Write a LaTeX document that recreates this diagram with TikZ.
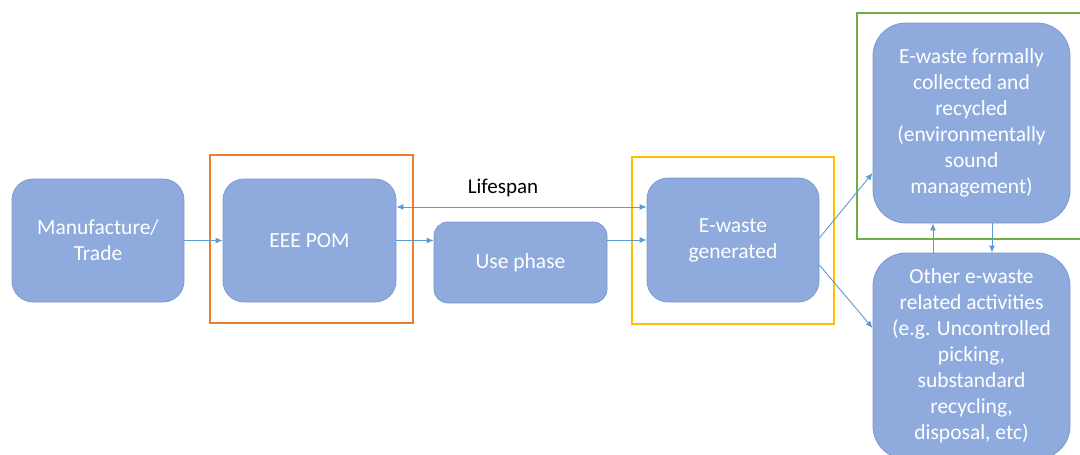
\documentclass[tikz,border=0pt]{standalone}
\usepackage{fontspec}
\setmainfont{Carlito}
\usetikzlibrary{arrows.meta}
\definecolor{boxblue}{HTML}{8FAADC}
\definecolor{boxline}{HTML}{7D9AD0}
\definecolor{arrowblue}{HTML}{5B9BD5}
\definecolor{frameorange}{HTML}{ED7D31}
\definecolor{frameyellow}{HTML}{FFC000}
\definecolor{framegreen}{HTML}{70AD47}

\begin{document}
\begin{tikzpicture}[x=1pt, y=-1pt,
	stage/.style={draw=boxline, line width=0.8pt, fill=boxblue, text=white, align=center, inner sep=0pt, font=\fontsize{21.5}{26}\selectfont},
	flow/.style={draw=arrowblue, line width=0.9pt, -{Latex[length=7pt,width=6pt]}},
	frame/.style={line width=2.2pt}]
	\useasboundingbox (0,0) rectangle (1080,455);
	% stages
	\node[stage, minimum width=172pt, minimum height=123pt, rounded corners=21pt](M) at (98,240.5){Manufacture/\\Trade};
	\node[stage, minimum width=173pt, minimum height=123pt, rounded corners=21pt](P) at (309.5,240.5){EEE POM};
	\node[stage, minimum width=173pt, minimum height=81pt, rounded corners=14pt](U) at (520.5,262.5){Use phase};
	\node[stage, minimum width=172pt, minimum height=124pt, rounded corners=21pt](G) at (733,240){E-waste\\generated};
	\node[stage, minimum width=197pt, minimum height=200pt, rounded corners=33pt](F) at (971.5,123){E-waste formally\\collected and\\recycled\\(environmentally\\sound\\management)};
	\node[stage, minimum width=197pt, minimum height=206pt, rounded corners=33pt](O) at (971.5,356){Other e-waste\\related activities\\(e.g. Uncontrolled\\picking,\\substandard\\recycling,\\disposal, etc)};
	\node[font=\fontsize{21}{25}\selectfont](L) at (503,188){Lifespan};
	% frames
	\draw[frame, frameorange] (210,155) rectangle (413,323);
	\draw[frame, frameyellow] (632,157) rectangle (834,324);
	\draw[frame, framegreen] (857,13) rectangle (1085,239);
	% flows
	\draw[flow] (M) -- (P);
	\draw[flow, {Latex[length=7pt,width=6pt]}-{Latex[length=7pt,width=6pt]}] ([yshift=33.5pt]P.east) -- ([yshift=33pt]G.west);
	\draw[flow] (P.east) -- (P.east -| U.west);
	\draw[flow] (G.west -| U.east) -- (G.west);
	\draw[flow] ([yshift=2pt]G.east) -- ([yshift=-50pt]F.west);
	\draw[flow] ([yshift=-25pt]G.east) -- ([yshift=28pt]O.west);
	\draw[flow] ([xshift=-38.5pt]O.north) -- ([xshift=-38.5pt]F.south);
	\draw[flow] ([xshift=20.5pt]F.south) -- ([xshift=20.5pt]O.north);
\end{tikzpicture}
\end{document}
